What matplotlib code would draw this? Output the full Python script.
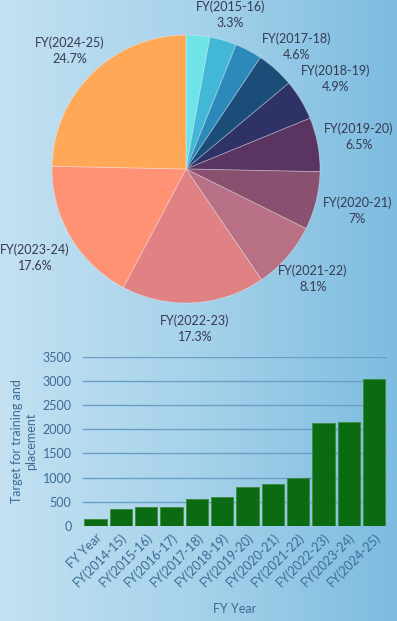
import numpy as np
import matplotlib
matplotlib.use("Agg")
import matplotlib.pyplot as plt
from matplotlib.colors import LinearSegmentedColormap

# data
years = ["FY Year", "FY(2014-15)", "FY(2015-16)", "FY(2016-17)", "FY(2017-18)",
         "FY(2018-19)", "FY(2019-20)", "FY(2020-21)", "FY(2021-22)",
         "FY(2022-23)", "FY(2023-24)", "FY(2024-25)"]
targets = [150, 350, 400, 400, 560, 600, 800, 860, 1000, 2120, 2160, 3030]

# pie uses the years only (no "FY Year" row)
pie_labels = years[1:]
pie_values = targets[1:]
pie_colors = ["#6ee4e8", "#42b8d6", "#2c8aba", "#1a4e78", "#2e3266", "#5b3562",
              "#8a506f", "#b87084", "#e08283", "#ff9175", "#ffa857"]
hidden_labels = ["FY(2014-15)", "FY(2016-17)"]

plt.rcParams['font.family'] = ['Lato', 'DejaVu Sans']

W, H = 397, 621
fig = plt.figure(figsize=(W / 100, H / 100), dpi=100)

# background gradient
bg = fig.add_axes([0, 0, 1, 1])
grad = np.linspace(0, 1, 256).reshape(1, -1)
cmap_bg = LinearSegmentedColormap.from_list("bg", ["#c3e1f2", "#a6d2ea", "#7dbce0"])
bg.imshow(grad, aspect="auto", cmap=cmap_bg, extent=[0, 1, 0, 1])
bg.set_axis_off()

# pie
cx, cy, r = 186, 169, 134
pie_top = 340
ax = fig.add_axes([0, 1 - pie_top / H, 1, pie_top / H])
ax.set_facecolor("none")
wedges, _ = ax.pie(pie_values, colors=pie_colors, startangle=90, counterclock=False,
                   wedgeprops=dict(linewidth=0.6, edgecolor=(1, 1, 1, 0.35)))
ax.set_aspect("auto")
ax.set_xlim(-cx / r, (W - cx) / r)
ax.set_ylim(-(pie_top - cy) / r, cy / r)
ax.set_axis_off()

total = sum(pie_values)
cum = 0
for lab, v in zip(pie_labels, pie_values):
    mid = (cum + v / 2) / total * 2 * np.pi
    cum += v
    if lab in hidden_labels:
        continue
    pct = round(v / total * 100, 1)
    pct_txt = ("%g" % pct) + "%"
    sx, sy = np.sin(mid), np.cos(mid)
    hw, hh, off = 0.24, 0.12, 0.07
    ext = min(hw / max(abs(sx), 1e-6), hh / max(abs(sy), 1e-6))
    d = 1 + off + ext
    ax.text(d * sx, d * sy, lab + "\n" + pct_txt, ha="center", va="center",
            fontsize=9, color="#363a52", linespacing=1.4)

# bar chart
bl, br, bt, bb = 82.7, 386.7, 356.7, 526
axb = fig.add_axes([bl / W, 1 - bb / H, (br - bl) / W, (bb - bt) / H])
axb.set_facecolor("none")
x = np.arange(len(years))
axb.bar(x, targets, width=0.88, color="#0b6b13", edgecolor="#3c8a3c",
        linewidth=0.6, zorder=3)
axb.set_xlim(-0.5, len(years) - 0.5)
axb.set_ylim(0, 3500)
axb.set_yticks(np.arange(0, 3501, 500))
axb.grid(axis="y", color="#6aa0c6", linewidth=1, zorder=0)
for s in axb.spines.values():
    s.set_visible(False)
axb.tick_params(axis="both", length=0, colors="#3b6b96", labelsize=9)
axb.tick_params(axis="y", pad=8)
axb.set_xticks(x)
axb.set_xticklabels(years, rotation=45, ha="right", rotation_mode="anchor")
axb.set_xlabel("FY Year", color="#3b6b96", fontsize=9, labelpad=10)
axb.set_ylabel("Target for training and\nplacement", color="#3b6b96",
               fontsize=9, labelpad=4)

fig.savefig("out.png", dpi=100)
